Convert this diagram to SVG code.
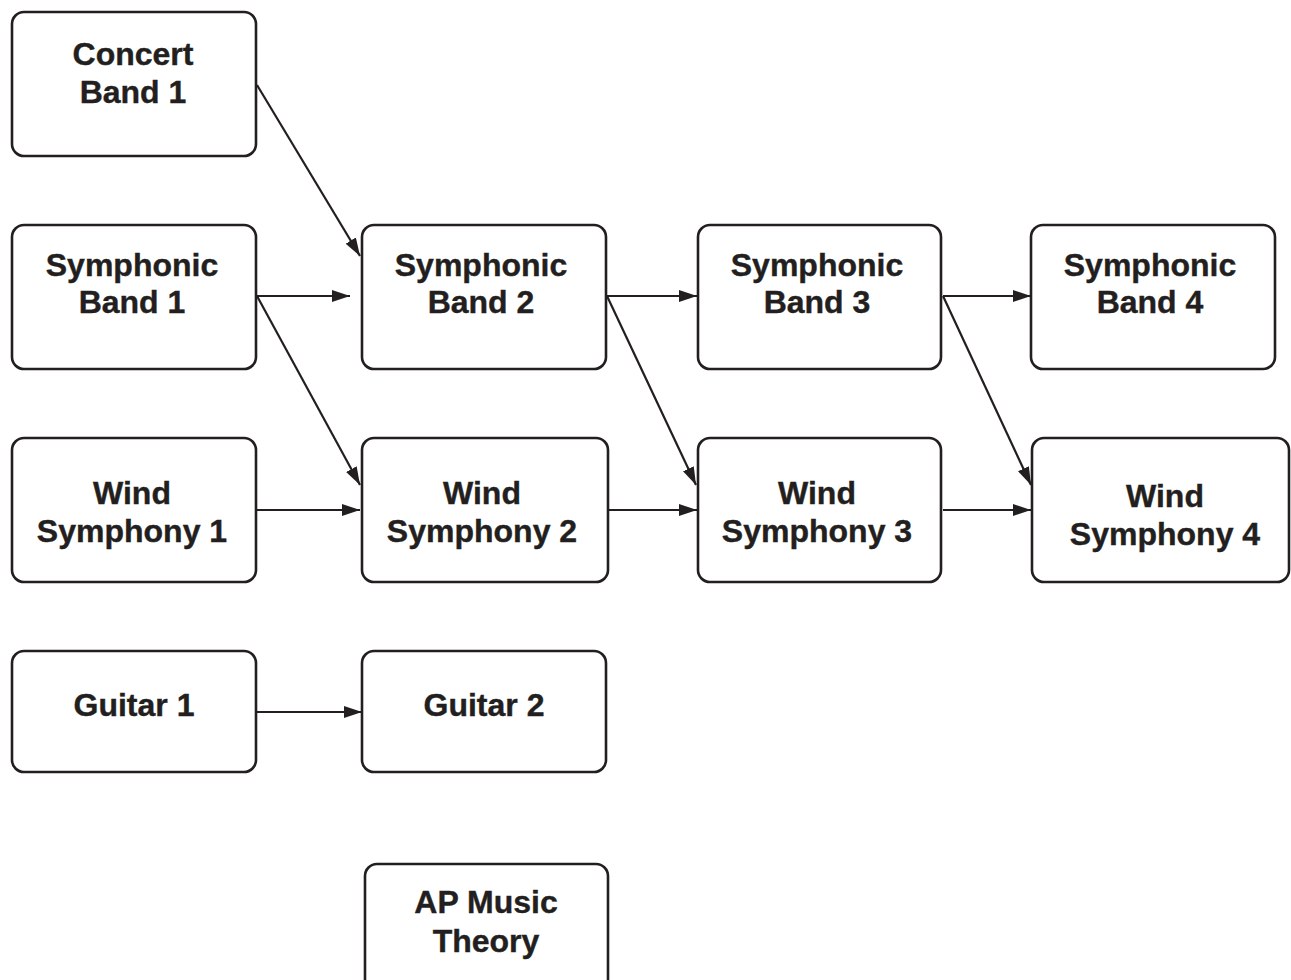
<svg xmlns="http://www.w3.org/2000/svg" width="1291" height="980" viewBox="0 0 1291 980">
<defs>
<style>
.box{fill:#fff;stroke:#231f20;stroke-width:2.6}
.lbl{font-family:"Liberation Sans",Arial,sans-serif;font-weight:bold;font-size:32px;fill:#231f20;text-anchor:middle;stroke:#231f20;stroke-width:0.4}
.con{stroke:#231f20;stroke-width:2.2;fill:none;marker-end:url(#ah)}
</style>
<marker id="ah" viewBox="0 0 18 12" refX="18" refY="6" markerWidth="18" markerHeight="12" markerUnits="userSpaceOnUse" orient="auto">
<path d="M0,0 L18,6 L0,12 Z" fill="#231f20"/>
</marker>
</defs>
<rect width="1291" height="980" fill="#fff"/>
<g id="connectors">
<line class="con" x1="257" y1="85" x2="360" y2="256"/>
<line class="con" x1="257" y1="296" x2="350" y2="296"/>
<line class="con" x1="257" y1="296" x2="360" y2="485"/>
<line class="con" x1="257" y1="510" x2="360" y2="510"/>
<line class="con" x1="607" y1="296" x2="697" y2="296"/>
<line class="con" x1="607" y1="296" x2="696" y2="485"/>
<line class="con" x1="609" y1="510" x2="697" y2="510"/>
<line class="con" x1="943" y1="296" x2="1031" y2="296"/>
<line class="con" x1="943" y1="296" x2="1031" y2="485"/>
<line class="con" x1="943" y1="510" x2="1031" y2="510"/>
<line class="con" x1="257" y1="712" x2="362" y2="712"/>
</g>
<g id="concert-band-1"><rect class="box" x="12" y="12" width="244" height="144" rx="12"/><text class="lbl" x="133" y="65">Concert</text><text class="lbl" x="133" y="103">Band 1</text></g>
<g id="symphonic-band-1"><rect class="box" x="12" y="225" width="244" height="144" rx="12"/><text class="lbl" x="132" y="276">Symphonic</text><text class="lbl" x="132" y="313">Band 1</text></g>
<g id="wind-symphony-1"><rect class="box" x="12" y="438" width="244" height="144" rx="12"/><text class="lbl" x="132" y="504">Wind</text><text class="lbl" x="132" y="542">Symphony 1</text></g>
<g id="guitar-1"><rect class="box" x="12" y="651" width="244" height="121" rx="12"/><text class="lbl" x="134" y="716">Guitar 1</text></g>
<g id="symphonic-band-2"><rect class="box" x="362" y="225" width="244" height="144" rx="12"/><text class="lbl" x="481" y="276">Symphonic</text><text class="lbl" x="481" y="313">Band 2</text></g>
<g id="wind-symphony-2"><rect class="box" x="362" y="438" width="246" height="144" rx="12"/><text class="lbl" x="482" y="504">Wind</text><text class="lbl" x="482" y="542">Symphony 2</text></g>
<g id="guitar-2"><rect class="box" x="362" y="651" width="244" height="121" rx="12"/><text class="lbl" x="484" y="716">Guitar 2</text></g>
<g id="ap-music-theory"><rect class="box" x="365" y="864" width="243" height="130" rx="12"/><text class="lbl" x="486" y="913">AP Music</text><text class="lbl" x="486" y="952">Theory</text></g>
<g id="symphonic-band-3"><rect class="box" x="698" y="225" width="243" height="144" rx="12"/><text class="lbl" x="817" y="276">Symphonic</text><text class="lbl" x="817" y="313">Band 3</text></g>
<g id="wind-symphony-3"><rect class="box" x="698" y="438" width="243" height="144" rx="12"/><text class="lbl" x="817" y="504">Wind</text><text class="lbl" x="817" y="542">Symphony 3</text></g>
<g id="symphonic-band-4"><rect class="box" x="1031" y="225" width="244" height="144" rx="12"/><text class="lbl" x="1150" y="276">Symphonic</text><text class="lbl" x="1150" y="313">Band 4</text></g>
<g id="wind-symphony-4"><rect class="box" x="1032" y="438" width="257" height="144" rx="12"/><text class="lbl" x="1165" y="507">Wind</text><text class="lbl" x="1165" y="545">Symphony 4</text></g>
</svg>
